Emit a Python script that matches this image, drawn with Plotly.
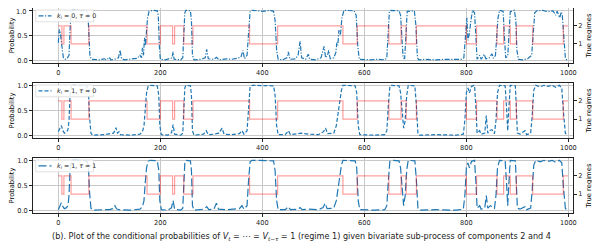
import plotly.graph_objects as go

# ---------------- data ----------------
# True regime change points (step function, value holds until next change)
regime_t = [0, 7, 11, 25, 60, 174, 200, 224, 228, 246, 264, 375, 430, 558, 586, 648,
            672, 682, 702, 800, 820, 860, 873, 886, 898, 930, 990, 999]
regime_v = [2, 1, 2, 1, 2, 1, 2, 1, 2, 1, 2, 1, 2, 1, 2, 1,
            2, 1, 2, 1, 2, 1, 2, 1, 2, 1, 2, 2]

# Panel 1: k_i = 0, tau = 0
p1_t = [0, 2, 4, 6, 8, 10, 14, 18, 21, 23, 25, 28, 40, 55, 58, 60, 62, 65, 80, 90, 95, 100, 103,
        110, 118, 121, 124, 130, 145, 155, 160, 163, 165, 167, 169, 171, 173, 175, 178, 185, 194,
        196, 198, 200, 210, 220, 223, 225, 227, 240, 244, 246, 248, 250, 259, 261, 263, 266, 280,
        288, 291, 294, 305, 310, 315, 330, 340, 350, 358, 362, 365, 370, 373, 376, 380, 400, 415,
        422, 425, 428, 431, 440, 448, 451, 454, 465, 470, 474, 477, 485, 490, 493, 505, 515, 521,
        524, 528, 530, 533, 540, 544, 546, 548, 550, 553, 556, 560, 580, 584, 587, 590, 610, 625,
        640, 644, 646, 649, 652, 668, 671, 673, 676, 679, 681, 684, 698, 701, 704, 707, 720, 740,
        760, 780, 790, 795, 797, 799, 801, 803, 806, 809, 812, 816, 819, 821, 826, 829, 835, 838,
        845, 850, 853, 857, 859, 862, 865, 872, 875, 877, 881, 883, 886, 894, 897, 899, 902, 910,
        920, 928, 931, 934, 938, 950, 960, 970, 975, 978, 983, 986, 988, 991, 994, 997]
p1_v = [0.35, 0.62, 0.55, 0.3, 0.2, 0.05, 0.02, 0.05, 0.1, 0.6, 0.97, 1.0, 1.0, 0.99, 0.95, 0.5,
        0.08, 0.02, 0.01, 0.03, 0.01, 0.06, 0.01, 0.02, 0.05, 0.2, 0.03, 0.01, 0.02, 0.04, 0.1,
        0.05, 0.25, 0.1, 0.45, 0.3, 0.6, 0.85, 0.98, 1.0, 0.99, 0.9, 0.3, 0.02, 0.01, 0.03, 0.05,
        0.17, 0.02, 0.01, 0.05, 0.5, 0.95, 1.0, 0.99, 0.8, 0.1, 0.01, 0.02, 0.05, 0.22, 0.03,
        0.02, 0.06, 0.01, 0.03, 0.02, 0.04, 0.06, 0.2, 0.03, 0.1, 0.6, 0.97, 1.0, 0.98, 1.0,
        0.98, 0.8, 0.2, 0.02, 0.01, 0.05, 0.17, 0.02, 0.03, 0.1, 0.38, 0.05, 0.02, 0.12, 0.02,
        0.01, 0.05, 0.28, 0.05, 0.1, 0.2, 0.03, 0.05, 0.15, 0.35, 0.3, 0.6, 0.5, 0.85, 1.0, 0.99,
        0.9, 0.3, 0.02, 0.01, 0.02, 0.01, 0.05, 0.5, 0.97, 1.0, 0.99, 0.9, 0.5, 0.05, 0.03, 0.5,
        0.98, 0.99, 0.7, 0.05, 0.01, 0.02, 0.01, 0.02, 0.01, 0.02, 0.05, 0.4, 0.75, 0.85, 0.4,
        0.55, 0.8, 1.0, 0.95, 0.3, 0.02, 0.1, 0.02, 0.12, 0.03, 0.05, 0.13, 0.04, 0.1, 0.4, 0.85,
        1.0, 0.98, 0.4, 0.05, 0.08, 0.5, 0.97, 1.0, 0.8, 0.2, 0.02, 0.01, 0.03, 0.1, 0.6, 0.95,
        0.99, 1.0, 0.97, 0.99, 0.9, 0.98, 0.85, 0.97, 0.9, 0.4, 0.05, 0.0]

# Panel 2: k_i = 1, tau = 0
p2_t = [0, 3, 6, 9, 12, 16, 19, 21, 23, 26, 56, 59, 61, 64, 67, 90, 100, 108, 111, 113, 116, 119,
        122, 140, 160, 165, 168, 170, 173, 176, 180, 194, 197, 199, 202, 215, 222, 225, 228, 240,
        244, 246, 248, 250, 259, 261, 263, 266, 285, 290, 294, 305, 315, 321, 325, 340, 355, 360,
        364, 370, 373, 376, 380, 422, 425, 428, 431, 445, 451, 455, 470, 476, 490, 510, 520, 524,
        528, 540, 545, 550, 555, 558, 582, 585, 588, 591, 620, 640, 644, 647, 650, 653, 668, 671,
        674, 677, 680, 683, 686, 699, 702, 705, 708, 740, 780, 794, 797, 800, 803, 806, 810, 816,
        819, 821, 826, 829, 836, 839, 842, 845, 850, 855, 858, 861, 865, 876, 879, 881, 883, 886,
        896, 898, 900, 905, 915, 918, 926, 929, 932, 936, 945, 952, 960, 968, 975, 982, 987, 990,
        994, 998]
p2_v = [0.08, 0.15, 0.2, 0.1, 0.05, 0.07, 0.12, 0.3, 0.8, 1.0, 0.99, 0.9, 0.4, 0.05, 0.01, 0.02,
        0.03, 0.05, 0.1, 0.16, 0.05, 0.08, 0.02, 0.01, 0.03, 0.08, 0.2, 0.5, 0.85, 0.98, 1.0,
        0.99, 0.8, 0.2, 0.02, 0.01, 0.06, 0.22, 0.03, 0.01, 0.05, 0.5, 0.95, 1.0, 0.99, 0.8, 0.1,
        0.01, 0.03, 0.1, 0.02, 0.03, 0.05, 0.15, 0.03, 0.02, 0.04, 0.1, 0.03, 0.1, 0.6, 0.97,
        1.0, 0.99, 0.8, 0.2, 0.02, 0.02, 0.1, 0.02, 0.04, 0.05, 0.03, 0.02, 0.08, 0.15, 0.04,
        0.05, 0.2, 0.55, 0.9, 1.0, 0.99, 0.85, 0.2, 0.02, 0.01, 0.02, 0.1, 0.6, 0.98, 1.0, 0.99,
        0.85, 0.4, 0.15, 0.3, 0.8, 1.0, 0.99, 0.6, 0.05, 0.01, 0.02, 0.01, 0.03, 0.3, 0.85, 0.95,
        0.85, 0.98, 1.0, 0.5, 0.05, 0.1, 0.03, 0.05, 0.4, 0.05, 0.1, 0.12, 0.04, 0.3, 0.85, 1.0,
        0.99, 0.5, 0.1, 0.5, 1.0, 0.99, 0.5, 0.05, 0.03, 0.1, 0.02, 0.05, 0.4, 0.9, 1.0, 0.97,
        1.0, 0.98, 1.0, 0.96, 1.0, 0.95, 0.5, 0.05, 0.0]

# Panel 3: k_i = 1, tau = 1
p3_t = [0, 3, 6, 9, 12, 16, 19, 21, 23, 26, 56, 59, 61, 64, 67, 90, 100, 107, 111, 114, 118, 140,
        160, 165, 168, 170, 173, 176, 180, 194, 197, 199, 202, 215, 222, 225, 228, 240, 244, 246,
        248, 250, 259, 261, 263, 266, 285, 291, 295, 305, 310, 314, 330, 355, 360, 364, 370, 373,
        376, 380, 422, 425, 428, 431, 445, 451, 455, 470, 474, 478, 490, 510, 519, 523, 527, 540,
        545, 550, 555, 558, 582, 585, 588, 591, 620, 640, 644, 647, 650, 653, 668, 671, 674, 677,
        680, 683, 686, 699, 702, 705, 708, 740, 780, 794, 797, 800, 803, 806, 810, 816, 819, 821,
        826, 829, 836, 839, 842, 847, 850, 855, 858, 861, 865, 876, 879, 881, 883, 886, 896, 898,
        900, 905, 915, 918, 926, 929, 932, 936, 945, 952, 960, 968, 975, 982, 987, 990, 994, 998]
p3_v = [0.02, 0.1, 0.16, 0.08, 0.04, 0.06, 0.1, 0.3, 0.8, 1.0, 0.99, 0.9, 0.4, 0.05, 0.01, 0.02,
        0.02, 0.04, 0.1, 0.04, 0.02, 0.01, 0.03, 0.08, 0.2, 0.5, 0.85, 0.98, 1.0, 0.99, 0.8, 0.2,
        0.02, 0.01, 0.06, 0.2, 0.03, 0.01, 0.05, 0.5, 0.95, 1.0, 0.99, 0.8, 0.1, 0.01, 0.03, 0.08,
        0.02, 0.03, 0.15, 0.03, 0.02, 0.04, 0.1, 0.03, 0.1, 0.6, 0.97, 1.0, 0.99, 0.8, 0.2, 0.02,
        0.02, 0.08, 0.02, 0.03, 0.06, 0.02, 0.03, 0.02, 0.06, 0.15, 0.04, 0.05, 0.2, 0.55, 0.9,
        1.0, 0.99, 0.85, 0.2, 0.02, 0.01, 0.02, 0.1, 0.6, 0.98, 1.0, 0.99, 0.85, 0.4, 0.1, 0.3,
        0.8, 1.0, 0.99, 0.6, 0.05, 0.01, 0.02, 0.01, 0.03, 0.3, 0.85, 0.95, 0.85, 0.98, 1.0, 0.5,
        0.05, 0.1, 0.03, 0.05, 0.3, 0.05, 0.1, 0.08, 0.04, 0.3, 0.85, 1.0, 0.99, 0.5, 0.1, 0.5,
        1.0, 0.99, 0.5, 0.05, 0.03, 0.08, 0.02, 0.05, 0.4, 0.9, 1.0, 0.97, 1.0, 0.98, 1.0, 0.96,
        1.0, 0.95, 0.5, 0.05, 0.0]

panel_labels = ["<i>k<sub>i</sub></i> = 0, <i>τ</i> = 0",
                "<i>k<sub>i</sub></i> = 1, <i>τ</i> = 0",
                "<i>k<sub>i</sub></i> = 1, <i>τ</i> = 1"]
x_ticks = [0, 200, 400, 600, 800, 1000]
prob_ticks = [0.0, 0.5, 1.0]
prob_labels = ["0.0", "0.5", "1.0"]
regime_ticks = [1, 2]
caption = ("(b). Plot of the conditional probabilities of <i>V<sub>t</sub></i> = ⋯ = "
           "<i>V<sub>t−τ</sub></i> = 1 (regime 1) given bivariate sub-process of components 2 and 4")

# ---------------- layout ----------------
# The page body has an 8px margin, so the figure is placed at (8, 8) in the window.
OFF = 8
W, H = 600 - OFF, 250 - OFF
FONT = "DejaVu Sans"
BLUE = "#1f77b4"
RED = "rgba(255,0,0,0.38)"
TXT = "#222"
dashes = ["5px,1.6px,1.2px,1.6px", "4px,2px", "8px,3px"]
panels_px = [(7.8, 62.8), (82.8, 138.2), (157.8, 213.2)]  # (top, bottom) window px


def fx(px):
    return (px - OFF) / W


def fy(px):
    return 1 - (px - OFF) / H


x_dom = [fx(33), fx(573)]
series = [(p1_t, p1_v), (p2_t, p2_v), (p3_t, p3_v)]

fig = go.Figure()
layout = dict(width=W, height=H, margin=dict(l=0, r=0, t=0, b=0, autoexpand=False),
              paper_bgcolor="white", plot_bgcolor="white", showlegend=False,
              font=dict(family=FONT, size=6.6, color="black"))
shapes = []
annotations = []

for i in range(3):
    top, bot = panels_px[i]
    # keep the same vertical scale even when the top is clipped at the figure edge
    top_c = max(top, OFF)
    clip = top_c - top
    p_scale = (bot - top) / 1.1
    r_scale = (bot - top) / 3.05
    dom = [fy(bot), fy(top_c)]
    xa = "x" if i == 0 else f"x{i+1}"
    ya = f"y{2*i+1}" if i > 0 else "y"
    yb = f"y{2*i+2}"
    t, v = series[i]
    fig.add_trace(go.Scatter(x=t, y=v, mode="lines", xaxis=xa, yaxis=ya,
                             line=dict(color=BLUE, width=1.2, dash=dashes[i]),
                             name="prob", showlegend=False))
    fig.add_trace(go.Scatter(x=regime_t, y=regime_v, mode="lines", xaxis=xa, yaxis=yb,
                             line=dict(color=RED, width=1.2, shape="hv"), showlegend=False))
    common_ax = dict(showline=True, linecolor=TXT, linewidth=0.8, mirror=True,
                     ticks="outside", ticklen=3, tickwidth=0.8, tickcolor=TXT,
                     tickfont=dict(family=FONT, size=6.6, color=TXT), zeroline=False,
                     automargin=False, ticklabeloverflow="allow")
    xkey = "xaxis" if i == 0 else f"xaxis{i+1}"
    layout[xkey] = dict(domain=x_dom, anchor=ya, range=[-49.6, 1009],
                        tickvals=x_ticks, showgrid=True, gridcolor="#c8c8c8", gridwidth=0.8,
                        **common_ax)
    ykey = "yaxis" if i == 0 else f"yaxis{2*i+1}"
    # the top label of the first panel sits at the page edge, where plotly would drop it,
    # so it is written as an annotation placed on the axis value instead
    labels = list(prob_labels)
    if i == 0:
        labels[-1] = ""
        annotations.append(dict(text=prob_labels[-1], x=fx(28.6), y=prob_ticks[-1],
                                xref="paper", yref=ya, xanchor="right", yanchor="middle",
                                yshift=-1.6, showarrow=False,
                                font=dict(family=FONT, size=6.6, color=TXT)))
    layout[ykey] = dict(domain=dom, anchor=xa, range=[-0.05, 1.05 - clip / p_scale],
                        tickvals=prob_ticks, ticktext=labels,
                        showgrid=True, gridcolor="#c8c8c8", gridwidth=0.8,
                        title=dict(text="Probability", font=dict(family=FONT, size=6.8),
                                   standoff=4), **common_ax)
    ykey2 = f"yaxis{2*i+2}"
    layout[ykey2] = dict(overlaying=ya, side="right", anchor=xa,
                         range=[-0.05, 3.0 - clip / r_scale],
                         tickvals=regime_ticks, showgrid=False, automargin=False,
                         ticklabeloverflow="allow",
                         title=dict(text="True regimes", font=dict(family=FONT, size=6.8),
                                    standoff=4),
                         ticks="outside", ticklen=3, tickwidth=0.8, tickcolor=TXT,
                         tickfont=dict(family=FONT, size=6.6, color=TXT), zeroline=False,
                         showline=False)
    # legend box (drawn as decoration, like matplotlib's legend)
    shapes.append(dict(type="rect", xref="paper", yref="paper", x0=fx(35.7), x1=fx(93.5),
                       y0=fy(top + 14.0), y1=fy(top + 2.2),
                       line=dict(color="#d5d5d5", width=0.7),
                       fillcolor="rgba(255,255,255,0.85)", layer="above"))
    ly = fy(top + 8.0)
    shapes.append(dict(type="line", xref="paper", yref="paper", x0=fx(38.5), x1=fx(51.5),
                       y0=ly, y1=ly, line=dict(color=BLUE, width=1.2, dash=dashes[i]),
                       layer="above"))
    annotations.append(dict(text=panel_labels[i], x=fx(54.5), y=ly, xref="paper", yref="paper",
                            xanchor="left", yanchor="middle", showarrow=False,
                            font=dict(family=FONT, size=6.3, color=TXT)))

annotations.append(dict(text=caption, x=fx(301), y=fy(236), xref="paper", yref="paper",
                        xanchor="center", yanchor="middle", showarrow=False,
                        font=dict(family=FONT, size=8.1, color=TXT)))
layout["annotations"] = annotations
layout["shapes"] = shapes
fig.update_layout(**layout)
fig.write_html("out.html")
